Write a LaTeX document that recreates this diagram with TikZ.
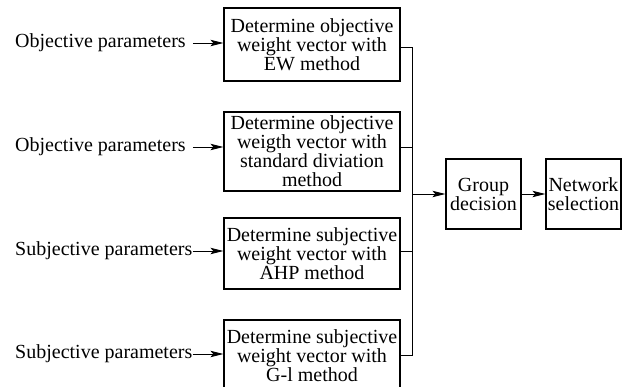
\documentclass[tikz,border=0pt]{standalone}
\usepackage{fontspec}
\setmainfont{Liberation Serif}
\usetikzlibrary{arrows.meta}
\begin{document}
\begin{tikzpicture}[x=1pt,y=-1pt,
  txt/.style={font=\rmfamily\fontsize{20}{19}\selectfont},
  box/.style={txt,draw,line width=1.3pt,align=center,inner sep=0pt,minimum width=176pt},
  sbox/.style={txt,draw,line width=1.3pt,align=center,inner sep=0pt,minimum width=75pt,minimum height=70pt},
  lbl/.style={txt,inner sep=0pt,anchor=west},
  conn/.style={line width=0.9pt},
  arr/.style={conn,-{Stealth[length=13pt,width=6.5pt,inset=3pt]}}]
\useasboundingbox (0,0) rectangle (625,387);
\clip (0,0) rectangle (625,387);
\node[box,minimum height=73pt] (b1) at (312,44.5) {Determine objective\\weight vector with\\EW method};
\node[box,minimum height=79pt] (b2) at (312,151.5) {Determine objective\\weigth vector with\\standard diviation\\method};
\node[box,minimum height=71pt] (b3) at (312,253.5) {Determine subjective\\weight vector with\\AHP method};
\node[box,minimum height=72pt] (b4) at (312,356) {Determine subjective\\weight vector with\\G-l method};
\node[sbox] (g) at (483.5,194) {Group\\decision};
\node[sbox] (n) at (583.5,194) {Network\\selection};
\node[lbl] (l1) at (15,43) {Objective parameters};
\node[lbl] (l2) at (15,147) {Objective parameters};
\node[lbl] (l3) at (15,251) {Subjective parameters};
\node[lbl] (l4) at (15,354) {Subjective parameters};
\draw[arr] ([xshift=7pt]l1.east) -- (l1.east -| b1.west);
\draw[arr] ([xshift=7pt]l2.east) -- (l2.east -| b2.west);
\draw[arr] (l3.east) -- (l3.east -| b3.west);
\draw[arr] (l4.east) -- (l4.east -| b4.west);
\coordinate (bus) at (412,194);
\coordinate (s1) at ([yshift=-2.5pt]b1.east);
\coordinate (s2) at ([yshift=4.5pt]b2.east);
\coordinate (s3) at ([yshift=2.5pt]b3.east);
\coordinate (s4) at ([yshift=1pt]b4.east);
\draw[conn] (s1) -- (s1 -| bus) -- (s4 -| bus) -- (s4);
\draw[conn] (s2) -- (s2 -| bus);
\draw[conn] (s3) -- (s3 -| bus);
\draw[arr] (bus) -- (g.west);
\draw[arr] (g.east) -- (n.west);
\end{tikzpicture}
\end{document}
